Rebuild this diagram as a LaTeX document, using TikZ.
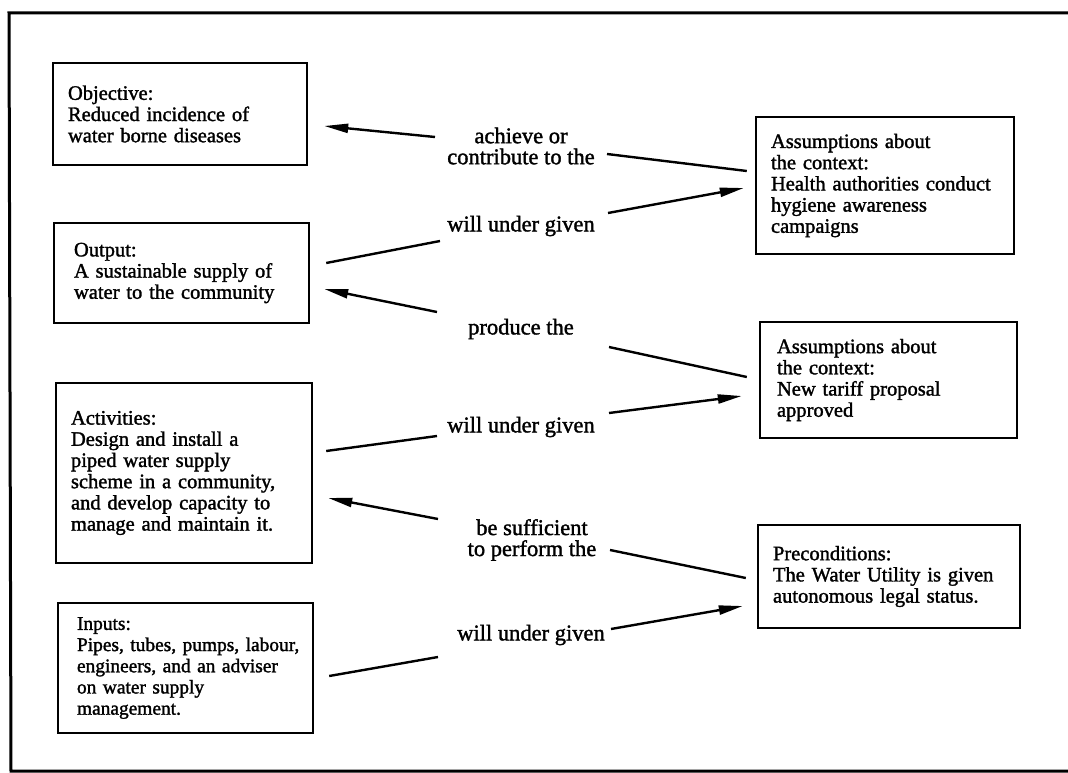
\documentclass[tikz,border=0pt]{standalone}
\usepackage{fontspec}
\setmainfont{Liberation Serif}
\newfontfamily\heavyserif{Liberation Serif}[FakeBold=1.5]
\usetikzlibrary{arrows.meta,calc}
\begin{document}
\begin{tikzpicture}[x=1pt,y=-1pt,
  card/.style={draw, line width=2.4pt, align=left, inner ysep=0pt,
    font=\heavyserif\fontsize{20.5pt}{21.2pt}\selectfont},
  verb/.style={align=center, inner sep=0pt,
    font=\heavyserif\fontsize{22.5pt}{21pt}\selectfont},
  link/.style={line width=2.4pt},
  push/.style={link, -{Triangle[length=24pt,width=9pt]}},
]
\fill[white] (0,0) rectangle (1068,773);
\useasboundingbox (0,0) rectangle (1068,773);

% page frame
\draw[line width=3pt] (1068,13) -- (9,13) -- (11,771) -- (1068,771);

% left column: logframe levels
\node[card, text width=224pt, inner xsep=15pt, minimum height=102pt] (obj) at (180,114)
  {Objective:\\Reduced incidence of\\water borne diseases};
\node[card, text width=215pt, inner xsep=20pt, minimum height=100pt] (out) at (181.5,273)
  {Output:\\A sustainable supply of\\water to the community};
\node[card, text width=226pt, inner xsep=15pt, minimum height=180pt] (act) at (184,473)
  {Activities:\\Design and install a\\piped water supply\\\mbox{scheme in a community,}\\\mbox{and develop capacity to}\\\mbox{manage and maintain it.}};
\node[card, text width=217pt, inner xsep=19pt, minimum height=130pt,
      font=\heavyserif\fontsize{19.4pt}{21.2pt}\selectfont] (inp) at (185.5,668)
  {Inputs:\\\mbox{Pipes, tubes, pumps, labour,}\\\mbox{engineers, and an adviser}\\on water supply\\management.};

% right column: assumptions and preconditions
\node[card, text width=228pt, inner xsep=15pt, minimum height=137pt] (as1) at (885,185.5)
  {Assumptions about\\the context:\\\mbox{Health authorities conduct}\\hygiene awareness\\campaigns};
\node[card, text width=223pt, inner xsep=17pt, minimum height=116pt] (as2) at (888.5,380)
  {Assumptions about\\the context:\\New tariff proposal\\approved};
\node[card, text width=232pt, inner xsep=15pt, minimum height=103pt] (pre) at (889,576.5)
  {Preconditions:\\\mbox{The Water Utility is given}\\\mbox{autonomous legal status.}};

% linking phrases
\node[verb] (l1) at (521,146) {achieve or\\contribute to the};
\node[verb] (l2) at (521,226) {will under given};
\node[verb] (l3) at (521,329) {produce the};
\node[verb] (l4) at (521,427) {will under given};
\node[verb] (l5) at (532,540) {be sufficient\\to perform the};
\node[verb] (l6) at (531,635) {will under given};

% connectors
\draw[push] ($(l1)+(-86,-9)$) -- ($(obj.east)+(16,12)$);
\draw[link] ($(l1)+(86,8)$) -- ($(as1.west)+(-8,-14.5)$);
\draw[link] ($(out.east)+(16,-10)$) -- ($(l2)+(-81,15)$);
\draw[push] ($(l2)+(87,-13)$) -- ($(as1.west)+(-11,2.5)$);

\draw[push] ($(l3)+(-84,-17)$) -- ($(out.east)+(14,16)$);
\draw[link] ($(l3)+(88,18)$) -- ($(as2.west)+(-12,-3)$);
\draw[link] ($(act.east)+(13,-22)$) -- ($(l4)+(-84,9)$);
\draw[push] ($(l4)+(88,-14)$) -- ($(as2.west)+(-17,16)$);

\draw[push] ($(l5)+(-94,-21)$) -- ($(act.east)+(15,25)$);
\draw[link] ($(l5)+(78,10)$) -- ($(pre.west)+(-11,1.5)$);
\draw[link] ($(inp.east)+(15,8)$) -- ($(l6)+(-93,22)$);
\draw[push] ($(l6)+(80,-6)$) -- ($(pre.west)+(-14,29.5)$);
\end{tikzpicture}
\end{document}
